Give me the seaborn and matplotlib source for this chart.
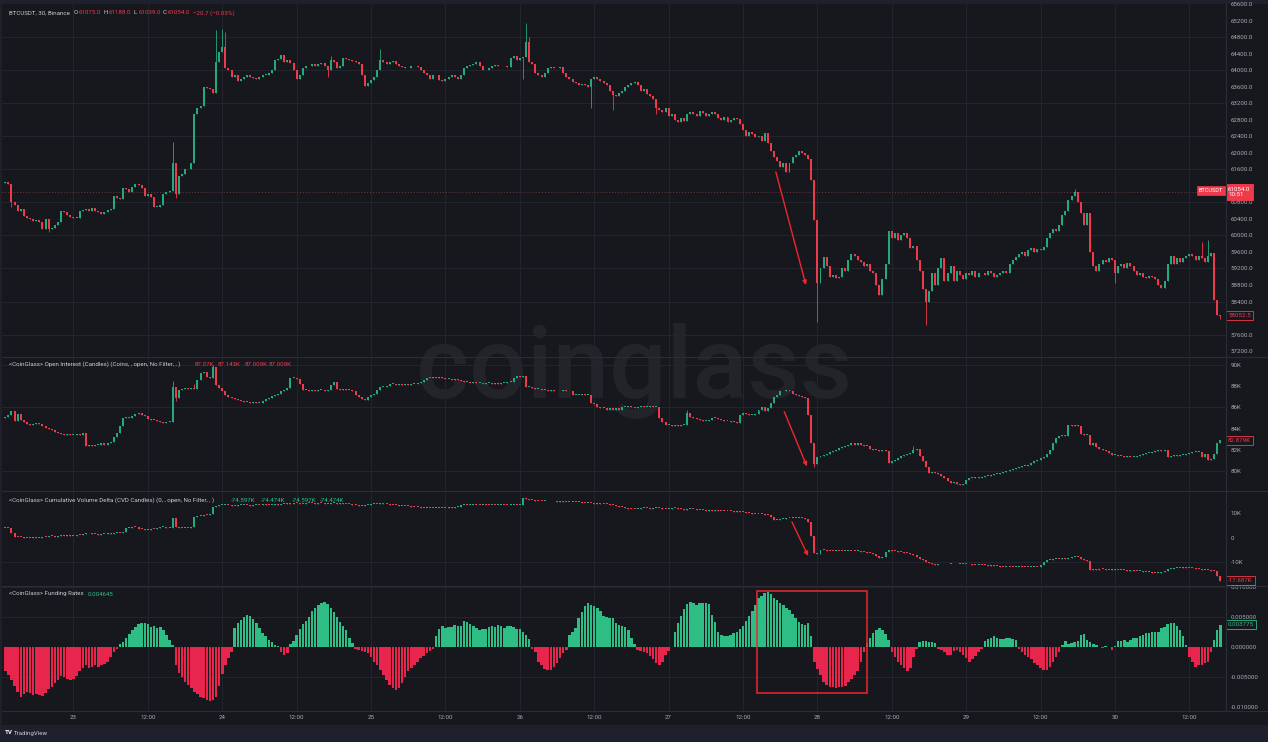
import matplotlib
matplotlib.use("Agg")
import matplotlib.pyplot as plt
import matplotlib.transforms as mtransforms
from matplotlib.lines import Line2D
from matplotlib.patches import Rectangle
from matplotlib.ticker import FuncFormatter
import numpy as np
import pandas as pd
import seaborn as sns

W, H = 1268, 742

# 30 minute candles, Jul 22 13:00 -> Jul 30 17:00
times = pd.date_range("2024-07-22 13:00", periods=393, freq="30min")

price_open0 = 61280.0
price_close = [
    # Jul 22
    61300, 61250, 60820, 60750, 60600, 60650, 60480, 60420, 60400, 60350, 60380, 60330, 60150, 60400, 60150, 60180,
    60250, 60320, 60600, 60580, 60500, 60450,
    # Jul 23
    60420, 60430, 60600, 60620, 60650, 60600, 60670, 60600, 60560, 60530, 60580, 60620, 60640, 60950, 60900, 60880,
    61150, 61120, 61050, 61180, 61250, 61220, 61150, 60950, 61000, 60930, 60700, 60700, 60750, 61000, 61050, 61080,
    61750, 61000, 61450, 61500, 61620, 61600, 61750, 62950, 63100, 63150, 63600, 63580, 63550, 63450, 64200, 64450,
    # Jul 24
    64580, 64050, 64000, 63850, 63900, 63750, 63800, 63850, 63880, 63850, 63820, 63800, 63850, 63900, 63900, 63950,
    64000, 64250, 64280, 64380, 64200, 64250, 64180, 64000, 63800, 63900, 64050, 64100, 64120, 64150, 64100, 64150,
    64180, 64100, 64000, 64250, 64200, 64050, 64100, 64300, 64280, 64250, 64220, 64200, 64150, 63900, 63620, 63700,
    # Jul 25
    63780, 63850, 64020, 64250, 64200, 64150, 64200, 64220, 64150, 64100, 64080, 64060, 64050, 64100, 64120, 64080,
    64000, 63950, 63880, 63800, 63900, 63880, 63780, 63750, 63800, 63850, 63900, 63850, 63800, 63900, 64050, 64100,
    64130, 64150, 64200, 64100, 64020, 64000, 64050, 64100, 64130, 64100, 64120, 64100, 64080, 64300, 64350, 64250,
    # Jul 26
    64300, 64320, 64700, 64200, 64150, 63950, 63900, 63850, 63950, 64050, 64080, 64050, 64060, 64080, 63950, 63850,
    63800, 63720, 63700, 63650, 63680, 63650, 63600, 63800, 63850, 63800, 63750, 63700, 63650, 63500, 63400, 63380,
    63450, 63500, 63600, 63650, 63700, 63720, 63650, 63500, 63550, 63420, 63380, 63300, 63100, 63050, 63000, 63080,
    # Jul 27
    62900, 62950, 62800, 62750, 62850, 62780, 62950, 63000, 62950, 62900, 63020, 62980, 62900, 62950, 63000, 62950,
    62850, 62800, 62880, 62750, 62800, 62850, 62820, 62700, 62550, 62400, 62500, 62450, 62380, 62420, 62300, 62480,
    62250, 62050, 61900, 61800, 61650, 61750, 61550, 61750, 61900, 61950, 62050, 62000, 61950, 61850, 61350, 60380,
    # Jul 28
    58850, 59200, 59480, 59250, 59000, 59050, 58980, 59000, 59200, 59150, 59400, 59550, 59500, 59400, 59350, 59250,
    59300, 59150, 59100, 58800, 58550, 58950, 59300, 60100, 59950, 60050, 59900, 60000, 60050, 59950, 59700, 59750,
    59400, 59150, 58700, 58400, 58650, 59100, 58800, 59200, 59450, 58900, 59100, 59250, 58900, 59150, 59050, 58950,
    # Jul 29
    59100, 59050, 59150, 59000, 59100, 59080, 59050, 59150, 59100, 59000, 59050, 59100, 59150, 59100, 59300, 59400,
    59480, 59550, 59600, 59500, 59650, 59700, 59600, 59680, 59650, 59720, 59950, 60050, 60150, 60100, 60250, 60500,
    60600, 60850, 60950, 61050, 60800, 60550, 60250, 60550, 59600, 59250, 59150, 59300, 59400, 59350, 59450, 59400,
    # Jul 30
    59100, 59250, 59300, 59200, 59330, 59250, 59150, 59050, 59100, 59000, 58980, 59020, 59000, 58950, 58800, 58730,
    58900, 59300, 59500, 59300, 59450, 59350, 59450, 59500, 59550, 59500, 59400, 59500, 59450, 59350, 59500, 59580,
    58440, 58070, 58052.5,
]
price_high = {54: 62270, 68: 64980, 70: 65000, 71: 64930, 105: 64350, 121: 64520, 168: 65150, 169: 64800,
              345: 61130, 386: 59850, 388: 59900}
price_low = {2: 60700, 14: 60080, 55: 60900, 104: 63850, 167: 63800, 189: 63090, 196: 63040, 210: 62950,
             262: 57900, 297: 57830, 358: 58840, 392: 57980}
price_ref = 61054.0

oi_open0 = 85.0
oi_close = [
    # Jul 22
    85.1, 85.3, 85.7, 84.7, 85.4, 84.8, 84.6, 84.4, 84.3, 84.4, 84.5, 84.4, 84.2, 84.1, 84.0, 83.9, 83.7, 83.6,
    83.5, 83.4, 83.5, 83.4,
    # Jul 23
    83.4, 83.5, 83.4, 83.6, 82.4, 82.5, 82.4, 82.5, 82.5, 82.6, 82.5, 82.6, 82.7, 83.2, 83.6, 84.2, 85.0, 85.1,
    85.0, 85.2, 85.4, 85.5, 85.3, 85.2, 84.9, 84.8, 84.8, 84.7, 84.6, 84.5, 84.6, 84.6, 87.9, 86.9, 87.6, 87.7,
    87.8, 87.7, 87.8, 87.7, 88.6, 89.2, 89.3, 88.9, 88.8, 89.8, 88.1, 87.8,
    # Jul 24
    87.5, 87.2, 87.0, 86.9, 86.8, 86.7, 86.6, 86.5, 86.5, 86.4, 86.5, 86.4, 86.4, 86.6, 86.8, 86.9, 87.1, 87.2,
    87.3, 87.5, 87.6, 87.8, 88.8, 88.8, 88.7, 88.2, 87.6, 87.6, 87.5, 87.6, 87.5, 87.6, 87.6, 87.5, 87.6, 88.1,
    88.4, 87.7, 87.6, 87.7, 87.6, 87.6, 87.5, 87.2, 87.0, 86.8, 86.7, 87.0,
    # Jul 25
    87.2, 87.3, 87.6, 87.9, 87.9, 88.0, 88.2, 88.2, 88.1, 88.2, 88.1, 88.2, 88.1, 88.2, 88.2, 88.3, 88.4, 88.6,
    88.8, 88.8, 88.9, 88.8, 88.9, 88.8, 88.7, 88.7, 88.6, 88.7, 88.6, 88.5, 88.4, 88.4, 88.3, 88.4, 88.3, 88.3,
    88.2, 88.3, 88.3, 88.2, 88.3, 88.2, 88.3, 88.3, 88.4, 88.4, 88.8, 89.0,
    # Jul 26
    88.9, 89.0, 87.9, 87.9, 87.8, 87.7, 87.7, 87.6, 87.6, 87.5, 87.6, 87.5, 87.5, 87.5, 87.6, 87.5, 87.5, 87.2,
    87.2, 87.2, 87.3, 87.2, 87.2, 86.4, 86.3, 86.0, 85.9, 85.9, 85.8, 85.9, 85.8, 85.9, 85.8, 86.0, 86.0, 86.1,
    86.0, 85.9, 86.0, 86.1, 86.0, 86.0, 86.1, 86.0, 86.0, 85.0, 84.6, 84.3,
    # Jul 27
    84.3, 84.2, 84.3, 84.2, 84.3, 84.3, 85.5, 85.1, 85.0, 84.9, 84.8, 84.7, 84.7, 84.8, 85.0, 85.0, 84.9, 84.8,
    84.7, 84.7, 84.6, 84.6, 84.5, 85.3, 85.5, 85.4, 85.3, 85.3, 85.4, 85.8, 86.0, 85.7, 85.9, 86.4, 87.0, 87.2,
    87.5, 87.5, 87.6, 87.5, 87.3, 87.2, 87.1, 87.0, 86.9, 85.3, 82.6, 80.7,
    # Jul 28
    81.3, 81.4, 81.5, 81.6, 81.8, 81.9, 82.0, 82.2, 82.3, 82.4, 82.5, 82.6, 82.5, 82.6, 82.5, 82.4, 82.4, 82.1,
    82.0, 82.0, 81.9, 82.0, 81.9, 80.8, 80.9, 81.0, 81.2, 81.4, 81.5, 81.6, 81.7, 82.0, 82.1, 81.4, 80.9, 80.4,
    79.8, 79.9, 79.8, 79.7, 79.5, 79.3, 79.1, 78.9, 79.0, 78.8, 78.7, 78.8,
    # Jul 29
    79.2, 79.3, 79.3, 79.4, 79.3, 79.4, 79.5, 79.5, 79.6, 79.7, 79.7, 79.8, 79.9, 80.0, 80.1, 80.2, 80.3, 80.4,
    80.5, 80.5, 80.6, 80.8, 80.9, 81.0, 81.2, 81.3, 81.6, 82.0, 82.6, 83.1, 83.3, 83.4, 83.3, 84.3, 84.2, 84.3,
    84.2, 83.5, 83.4, 83.4, 82.5, 82.6, 82.3, 82.1, 82.0, 81.9, 81.7, 81.5,
    # Jul 30
    81.5, 81.4, 81.4, 81.3, 81.4, 81.3, 81.3, 81.4, 81.5, 81.6, 81.7, 81.7, 81.8, 81.9, 82.0, 81.9, 82.0, 81.3,
    81.4, 81.5, 81.4, 81.5, 81.5, 81.6, 81.7, 81.8, 81.8, 81.8, 81.3, 81.6, 81.0, 81.1, 81.6, 82.6, 82.879,
]
oi_high = {54: 88.5, 61: 88.2, 67: 90.0, 220: 85.8, 293: 82.4}
oi_low = {261: 80.4, 55: 86.6}

cvd_open0 = 3.9
cvd_close = [
    # Jul 22
    3.9, 3.8, 2.0, 0.4, 0.3, 0.2, -0.1, -0.2, 0.0, 0.1, -0.1, 0.0, 0.3, 0.2, 0.5, 0.6, 0.4, 0.8, 1.0, 0.7, 0.9, 0.8,
    # Jul 23
    0.8, 1.2, 1.1, 1.6, 1.9, 1.7, 1.5, 1.4, 1.2, 1.3, 1.5, 1.8, 1.6, 1.9, 2.0, 1.9, 2.4, 3.8, 4.0, 4.4, 4.2, 3.6,
    3.4, 3.2, 3.3, 3.6, 3.5, 3.8, 4.2, 4.4, 4.0, 4.1, 8.0, 4.2, 4.0, 3.9, 4.1, 3.8, 4.2, 8.6, 8.8, 9.0, 9.3, 9.2,
    9.5, 12.7, 13.0, 13.2,
    # Jul 24
    13.2, 13.4, 13.3, 13.1, 13.0, 13.2, 13.3, 13.4, 13.2, 13.0, 13.3, 13.5, 13.4, 13.6, 13.5, 13.3, 13.4, 13.7,
    13.5, 13.6, 13.8, 14.0, 13.9, 14.1, 14.0, 13.8, 13.9, 14.1, 14.2, 14.0, 13.9, 14.1, 14.0, 13.8, 13.9, 14.0,
    14.1, 13.9, 14.0, 13.8, 13.7, 13.6, 13.4, 13.2, 13.0, 13.1, 13.3, 13.5,
    # Jul 25
    13.6, 13.8, 13.7, 14.0, 13.8, 13.6, 13.5, 13.4, 13.2, 13.1, 13.0, 12.9, 12.8, 12.6, 12.5, 12.4, 12.3, 12.2,
    12.3, 12.2, 12.1, 12.2, 12.3, 12.2, 12.3, 12.4, 12.3, 12.5, 12.7, 13.2, 13.4, 13.3, 13.4, 13.5, 13.4, 13.3,
    13.4, 13.3, 13.2, 13.4, 13.3, 13.4, 13.5, 13.4, 13.3, 13.4, 13.5, 13.4,
    # Jul 26
    13.5, 16.1, 15.8, 15.5, 15.3, 15.2, 15.0, 14.9, 15.0, 14.8, 14.9, 14.8, 14.7, 14.8, 14.6, 14.7, 14.5, 14.6,
    14.4, 14.5, 14.3, 14.1, 14.2, 14.0, 13.9, 14.0, 13.8, 13.7, 13.6, 13.5, 13.3, 13.0, 12.6, 12.4, 12.0, 11.8,
    11.7, 11.6, 11.9, 12.1, 12.2, 12.0, 11.9, 12.1, 12.2, 12.0, 11.8, 11.6,
    # Jul 27
    11.9, 12.1, 12.0, 11.8, 11.6, 11.4, 11.7, 11.8, 11.6, 11.5, 11.4, 11.3, 11.0, 11.2, 11.1, 11.2, 11.0, 10.9,
    10.8, 11.0, 10.9, 10.7, 10.8, 10.5, 10.4, 10.2, 10.0, 9.8, 9.6, 9.7, 9.5, 9.4, 9.3, 8.5, 7.3, 7.4, 7.6, 7.8,
    7.9, 8.0, 8.1, 8.0, 8.2, 8.1, 7.5, 6.6, 0.5, -6.3,
    # Jul 28
    -6.5, -5.0, -5.2, -5.4, -5.5, -5.6, -5.4, -5.5, -5.6, -5.5, -5.4, -5.5, -5.6, -5.5, -5.8, -6.0, -6.2, -6.4,
    -6.5, -7.5, -8.3, -8.0, -6.0, -5.0, -5.3, -5.6, -5.8, -6.0, -6.2, -6.4, -6.5, -7.2, -8.0, -8.6, -9.1, -9.8,
    -10.5, -11.0, -11.2, -11.0, -10.9, -11.0, -10.8, -10.9, -11.0, -10.8, -10.6, -10.7,
    # Jul 29
    -10.8, -11.0, -11.1, -11.2, -11.1, -11.3, -11.4, -11.5, -11.4, -11.6, -11.8, -11.9, -12.0, -11.9, -12.0, -12.1,
    -12.0, -11.9, -12.0, -12.1, -12.2, -12.1, -12.0, -12.1, -11.2, -10.0, -9.2, -9.0, -8.8, -8.6, -8.8, -8.5,
    -8.6, -8.4, -8.1, -7.8, -8.0, -8.6, -9.0, -9.5, -13.2, -13.0, -13.1, -12.9, -13.0, -13.1, -13.2, -13.0,
    # Jul 30
    -13.1, -13.3, -13.2, -13.4, -13.5, -13.4, -13.6, -13.8, -13.7, -13.9, -14.1, -14.0, -14.3, -14.5, -14.4,
    -14.2, -13.5, -13.0, -12.8, -12.5, -12.3, -12.4, -12.2, -12.3, -12.5, -12.6, -12.8, -13.0, -13.2, -13.1,
    -13.4, -13.5, -13.6, -15.8, -17.687,
]

# funding rate in units of 0.001
funding_pm = [
    # Jul 22
    -4.0, -4.6, -5.5, -6.5, -7.5, -8.2, -7.8, -7.4, -7.6, -8.0, -7.8, -7.9, -8.1, -7.6, -7.0, -6.6, -6.0, -5.4,
    -4.8, -5.0, -5.3, -5.4,
    # Jul 23
    -5.2, -4.8, -4.0, -3.4, -3.0, -3.5, -3.3, -3.0, -3.2, -2.9, -2.7, -2.4, -1.6, -0.8, -0.2, 0.5, 0.8, 1.6,
    2.2, 2.9, 3.4, 3.9, 4.1, 4.1, 3.8, 3.4, 3.5, 3.2, 3.3, 2.8, 2.0, 1.2, 0.4, -3.0, -4.2, -5.0, -5.8, -6.3,
    -6.8, -7.4, -7.8, -8.2, -8.5, -8.8, -9.0, -8.8, -8.2, -6.5,
    # Jul 24
    -4.5, -3.0, -1.8, -0.7, 3.2, 4.0, 4.6, 5.0, 5.3, 5.2, 4.7, 4.0, 3.2, 2.4, 1.8, 1.2, 0.8, 0.3, 0.2, -0.7,
    -1.3, -0.9, 0.6, 1.0, 2.0, 3.0, 3.8, 4.4, 5.0, 6.0, 6.6, 7.0, 7.4, 7.5, 7.2, 6.6, 5.8, 5.0, 4.2, 3.6, 2.8,
    1.6, 0.7, -0.2, -0.4, -0.6, -0.8, -1.0,
    # Jul 25
    -1.6, -2.4, -3.0, -3.8, -4.6, -5.4, -6.2, -6.8, -7.1, -6.8, -6.0, -5.0, -4.0, -3.4, -3.0, -2.4, -1.8, -1.4,
    -1.0, -0.6, -0.2, 1.8, 3.0, 3.6, 3.2, 3.4, 3.3, 3.7, 3.5, 3.6, 4.3, 4.2, 3.8, 3.6, 3.2, 2.8, 3.0, 3.0, 3.4,
    3.6, 3.4, 3.7, 3.5, 3.2, 3.6, 3.5, 3.4, 3.0,
    # Jul 26
    3.0, 2.6, 2.0, 1.4, -0.3, -0.8, -2.4, -3.0, -3.6, -3.8, -3.7, -3.2, -2.6, -1.8, -0.9, -0.5, 2.0, 2.6, 3.2,
    4.8, 5.8, 6.8, 7.4, 7.0, 6.8, 6.5, 6.0, 5.2, 5.0, 4.9, 4.8, 4.0, 3.7, 3.5, 3.4, 2.8, 1.6, 0.5, -0.4, -0.6,
    -0.8, -1.0, -1.4, -2.0, -2.6, -2.9, -2.4, -1.2,
    # Jul 27
    -0.6, 0.0, 2.6, 4.0, 5.2, 6.4, 7.2, 7.6, 7.3, 7.0, 7.3, 7.4, 7.3, 7.2, 5.4, 4.2, 2.6, 2.0, 1.9, 1.8, 2.0,
    2.3, 2.6, 3.0, 3.6, 4.4, 5.2, 6.0, 7.0, 8.2, 8.6, 9.0, 9.2, 8.8, 8.2, 7.9, 7.4, 7.0, 6.6, 6.2, 5.6, 4.8,
    4.2, 3.8, 3.7, 4.0, 1.8, -2.4,
    # Jul 28
    -3.6, -4.6, -5.7, -6.2, -6.6, -6.6, -6.7, -6.6, -6.6, -6.4, -5.7, -5.2, -4.6, -4.0, -2.4, -0.7, 0.7, 1.5,
    2.3, 2.8, 3.2, 2.8, 2.2, 1.2, -0.7, -1.6, -2.4, -2.9, -3.4, -4.0, -3.4, -1.6, -0.2, 0.9, 1.0, 1.0, 0.8, 0.8,
    0.7, -0.2, -0.5, -0.7, -1.3, -1.2, -0.6, -0.4, -0.7, -1.2,
    # Jul 29
    -1.8, -2.4, -2.0, -1.4, -0.8, -0.3, 1.0, 1.4, 1.6, 1.8, 1.6, 1.4, 1.3, 1.5, 1.6, 1.4, 1.2, -0.2, -0.8, -1.2,
    -1.6, -2.0, -2.6, -3.0, -3.4, -3.8, -3.7, -3.2, -2.4, -1.6, -0.8, 0.4, 1.0, 0.6, 0.7, 0.8, 1.0, 2.0, 2.2,
    1.2, 0.8, 0.6, 0.3, 0.1, -0.1, 0.2, 0.1, -0.4,
    # Jul 30
    0.2, 1.0, 1.1, 1.2, 0.9, 1.2, 1.5, 1.6, 1.8, 2.0, 2.3, 2.4, 2.6, 2.5, 2.6, 3.2, 3.4, 3.8, 4.0, 4.0, 3.6, 2.8,
    1.8, 0.3, -1.6, -2.4, -3.2, -3.0, -2.9, -2.6, -2.4, -0.7, 1.2, 2.9, 3.775,
]

price_header = [("O", "61075.0"), ("H", "61188.0"), ("L", "61039.0"), ("C", "61054.0")]
price_change = "\u221220.7 (\u22120.03%)"
oi_header = ["87.07K", "87.143K", "87.009K", "87.009K"]
cvd_header = ["-74.597K", "-74.474K", "-74.597K", "-74.474K"]
funding_header = "0.004645"

for name, arr in [("price", price_close), ("oi", oi_close), ("cvd", cvd_close), ("funding", funding_pm)]:
    assert len(arr) == len(times), f"{name} has {len(arr)} values"

BG = "#17181d"
FRAME = "#1e212b"
GRID = "#23262e"
SEP = "#2a2d36"
TXT = "#a8abb4"
HEAD = "#c9ccd4"
UP = "#23a97c"
DOWN = "#ef3a4c"
F_UP = "#2ebd85"
F_DOWN = "#e8264d"
ANN = "#f0262c"
FS = 4.4

sns.set_theme(style="dark")
plt.rcParams["font.family"] = ["Roboto", "DejaVu Sans"]
plt.rcParams["axes.unicode_minus"] = False

fig = plt.figure(figsize=(W / 100, H / 100), dpi=100)
fig.patch.set_facecolor(FRAME)
fig.add_artist(Rectangle((2 / W, 1 - 725 / H), (W - 2) / W, 721 / H, transform=fig.transFigure,
                         facecolor=BG, edgecolor="none", zorder=-3))
fig.text(634 / W, 1 - 398 / H, "coinglass", fontsize=73, fontweight="medium", color="#222429",
         ha="center", va="baseline", zorder=-2)


def px_axes(x0, y0, x1, y1):
    ax = fig.add_axes([x0 / W, 1 - y1 / H, (x1 - x0) / W, (y1 - y0) / H])
    ax.set_facecolor("none")
    for s in ax.spines.values():
        s.set_visible(False)
    return ax


x = np.arange(len(times))
tick_idx = np.where((times.minute == 0) & (times.hour % 12 == 0))[0]
tick_lab = [str(times[i].day) if times[i].hour == 0 else "12:00" for i in tick_idx]
XLIM = (-1.06, 393.5)


def draw_candles(ax, closes, open0, highs, lows, min_body):
    c = np.asarray(closes, dtype=float)
    o = np.concatenate([[open0], c[:-1]])
    colors = np.where(c >= o, UP, DOWN)
    hi = np.maximum(o, c)
    lo = np.minimum(o, c)
    for k, v in highs.items():
        hi[k] = v
    for k, v in lows.items():
        lo[k] = v
    ax.vlines(x, lo, hi, colors=colors, linewidth=0.6, zorder=2)
    ax.bar(x, np.maximum(np.abs(c - o), min_body), bottom=np.minimum(o, c), width=0.64,
           color=colors, linewidth=0, zorder=3)


def style_axis(ax, ylim, yticks, fmt, grid_y):
    ax.set_xlim(*XLIM)
    ax.set_ylim(*ylim)
    ax.yaxis.tick_right()
    ax.set_yticks(yticks)
    ax.yaxis.set_major_formatter(FuncFormatter(fmt))
    ax.tick_params(axis="y", length=0, labelsize=FS, colors=TXT, pad=4)
    ax.set_xticks(tick_idx)
    ax.tick_params(axis="x", length=0, labelbottom=False)
    ax.grid(False)
    for xv in tick_idx:
        ax.axvline(xv, color=GRID, lw=0.7, zorder=0)
    for yv in grid_y:
        ax.axhline(yv, color=GRID, lw=0.7, zorder=0)
    ax.set_xlabel("")
    ax.set_ylabel("")


def side_label(ax, val, s, fc, ec, tc):
    tr = mtransforms.blended_transform_factory(ax.transAxes, ax.transData)
    ax.text(1.0 + 3 / 1223, val, s, transform=tr, ha="left", va="center", fontsize=FS, color=tc,
            bbox=dict(boxstyle="square,pad=0.35", fc=fc, ec=ec, lw=0.6), clip_on=False, zorder=10)


# ---- price pane
axp = px_axes(2, 4, 1225, 356)
draw_candles(axp, price_close, price_open0, price_high, price_low, 18)
style_axis(axp, (57079, 65611), np.arange(57200, 65700, 400), lambda v, p: f"{v:.1f}",
           np.arange(57600, 65000, 800))
axp.axhline(price_ref, color="#6d3940", lw=0.7, ls=(0, (1, 2)), zorder=1)
side_label(axp, price_ref, f"{price_ref:.1f}\n10:51", DOWN, DOWN, "white")
tr = mtransforms.blended_transform_factory(axp.transAxes, axp.transData)
axp.text(1.0 - 2 / 1223, price_ref + 40, "BTCUSDT", transform=tr, ha="right", va="center", fontsize=FS - 0.4,
         color="white", bbox=dict(boxstyle="square,pad=0.3", fc=DOWN, ec=DOWN, lw=0.5), zorder=10)
side_label(axp, price_close[-1], f"{price_close[-1]:.1f}", BG, DOWN, DOWN)
axp.annotate("", xy=(258.3, 58800), xytext=(248.6, 61540),
             arrowprops=dict(arrowstyle="-|>", color=ANN, lw=1.0, mutation_scale=6, shrinkA=0, shrinkB=0))

# ---- open interest pane
axo = px_axes(2, 357, 1225, 490)
draw_candles(axo, oi_close, oi_open0, oi_high, oi_low, 0.09)
style_axis(axo, (78.21, 90.75), np.arange(80, 91, 2), lambda v, p: f"{v:.0f}K", [80, 86, 90])
side_label(axo, oi_close[-1], f"{oi_close[-1]:.3f}K", BG, DOWN, DOWN)
axo.annotate("", xy=(258.6, 80.45), xytext=(251.3, 85.6),
             arrowprops=dict(arrowstyle="-|>", color=ANN, lw=1.0, mutation_scale=6, shrinkA=0, shrinkB=0))

# ---- CVD pane
axc = px_axes(2, 491, 1225, 585)
draw_candles(axc, cvd_close, cvd_open0, {}, {}, 0.4)
style_axis(axc, (-19.4, 19.1), [-10, 0, 10], lambda v, p: "0" if v == 0 else f"{v:.0f}K", [-10])
side_label(axc, cvd_close[-1], f"{cvd_close[-1]:.3f}K", BG, DOWN, DOWN)
axc.annotate("", xy=(259.0, -7.5), xytext=(253.8, 6.4),
             arrowprops=dict(arrowstyle="-|>", color=ANN, lw=1.0, mutation_scale=6, shrinkA=0, shrinkB=0))

# ---- funding pane (seaborn bars)
axf = px_axes(2, 586, 1225, 711)
rates = np.asarray(funding_pm) / 1000.0
fdf = pd.DataFrame({"t": x, "rate": rates, "side": np.where(rates >= 0, "up", "down")})
sns.barplot(data=fdf, x="t", y="rate", hue="side", palette={"up": F_UP, "down": F_DOWN},
            native_scale=True, dodge=False, width=0.8, linewidth=0, saturation=1,
            errorbar=None, legend=False, ax=axf, zorder=3)
style_axis(axf, (-0.0106, 0.0102), [-0.01, -0.005, 0, 0.005, 0.01], lambda v, p: f"{v:.6f}",
           [-0.005, 0.005, 0.01])
axf.set_xticks(tick_idx)
axf.set_xticklabels(tick_lab)
axf.tick_params(axis="x", length=0, labelbottom=True, labelsize=FS, colors=TXT, pad=3)
side_label(axf, rates[-1], f"{rates[-1]:.6f}", BG, F_UP, F_UP)
axf.add_patch(Rectangle((242.5, -0.0076), 35.5, 0.0170, fill=False, edgecolor=ANN, lw=1.1, zorder=6))

# ---- separators
for yy in (356.5, 490.5, 585.5):
    fig.add_artist(Line2D([2 / W, 1], [1 - yy / H] * 2, color=SEP, lw=0.8, transform=fig.transFigure))
fig.add_artist(Line2D([1225.5 / W] * 2, [1 - 4 / H, 1 - 711 / H], color=SEP, lw=0.8, transform=fig.transFigure))
fig.add_artist(Line2D([2 / W, 1], [1 - 711 / H] * 2, color=SEP, lw=0.8, transform=fig.transFigure))


# ---- header legends
def ftext(xp, yp, s, **kw):
    fig.text(xp / W, 1 - yp / H, s, va="center", ha="left", fontsize=FS, **kw)


ftext(9, 12.7, "BTCUSDT, 30, Binance", color=HEAD)
for (lab, val), xp in zip(price_header, [74, 104, 134, 163]):
    ftext(xp, 12.7, lab, color=HEAD)
    ftext(xp + 4.5, 12.7, val, color=DOWN)
ftext(193, 12.7, price_change, color=DOWN)

ftext(9, 364, "<CoinGlass> Open Interest (Candles) (Coins, , open, No Filter, , )", color=HEAD)
for val, xp in zip(oi_header, [195, 218, 245, 269]):
    ftext(xp, 364, val, color=DOWN)

ftext(9, 500.5, "<CoinGlass> Cumulative Volume Delta (CVD Candles) (0, , open, No Filter, , )", color=HEAD)
for val, xp in zip(cvd_header, [231, 261, 292, 320]):
    ftext(xp, 500.5, val, color=F_UP)

ftext(9, 594, "<CoinGlass> Funding Rates", color=HEAD)
ftext(88, 594, funding_header, color=F_UP)

ftext(5, 733, "TV", color="white", fontweight="bold")
ftext(14, 733, "TradingView", color=HEAD)

fig.savefig("out.png", dpi=100, facecolor=fig.get_facecolor())
plt.close(fig)
